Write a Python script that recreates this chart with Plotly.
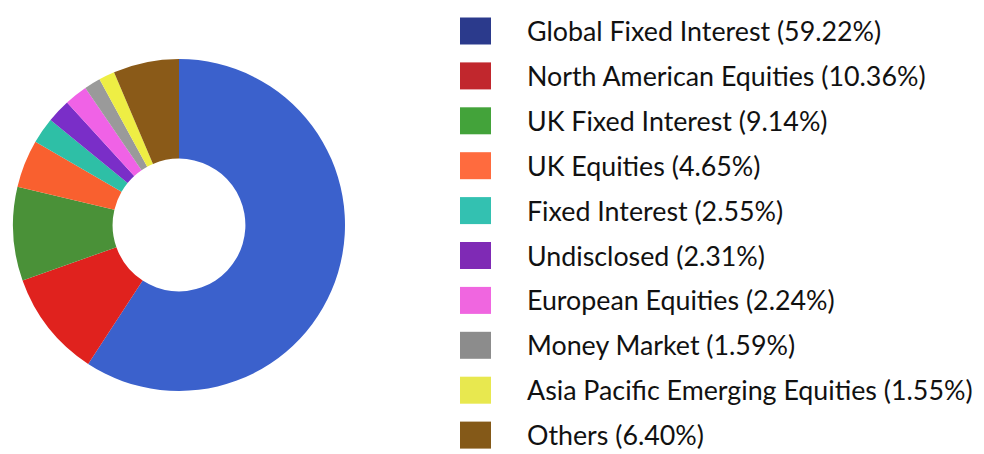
import plotly.graph_objects as go

categories = ["Global Fixed Interest", "North American Equities", "UK Fixed Interest",
              "UK Equities", "Fixed Interest", "Undisclosed", "European Equities",
              "Money Market", "Asia Pacific Emerging Equities", "Others"]
values = [59.22, 10.36, 9.14, 4.65, 2.55, 2.31, 2.24, 1.59, 1.55, 6.40]
pie_colors = ["#3b61cc", "#e0221e", "#4a9138", "#f9602f", "#2ebfa6", "#7a2ec8",
              "#f062e6", "#9a9a9a", "#eeee44", "#8a5a18"]
legend_colors = ["#2b3a8c", "#c1272d", "#43a33a", "#ff6b3e", "#33c1b1", "#7f2ab5",
                 "#f066e0", "#8c8c8c", "#e8e84f", "#845918"]

W, H = 984, 454
fig = go.Figure()
fig.add_trace(go.Pie(
    labels=categories, values=values, sort=False, direction="clockwise", rotation=0,
    hole=0.40, marker=dict(colors=pie_colors, line=dict(width=0)),
    textinfo="none", hoverinfo="label+percent", showlegend=False,
    domain=dict(x=[13 / W, 345 / W], y=[1 - 391 / H, 1 - 59 / H]),
))

row0, step = 31.0, 44.9
shapes, annotations = [], []
for i, (name, v) in enumerate(zip(categories, values)):
    yc = row0 + i * step
    shapes.append(dict(type="rect", xref="paper", yref="paper",
                       x0=460 / W, x1=491 / W, y0=1 - (yc + 13.5) / H, y1=1 - (yc - 13.5) / H,
                       fillcolor=legend_colors[i], line=dict(width=0)))
    annotations.append(dict(xref="paper", yref="paper", x=525 / W, y=1 - yc / H,
                            xanchor="left", yanchor="middle", showarrow=False,
                            text=f"{name} ({v:.2f}%)",
                            font=dict(family="Lato", size=26.8, color="#111111")))

fig.update_layout(width=W, height=H, margin=dict(l=0, r=0, t=0, b=0),
                  paper_bgcolor="white", plot_bgcolor="white",
                  shapes=shapes, annotations=annotations)
fig.write_html("out.html")
